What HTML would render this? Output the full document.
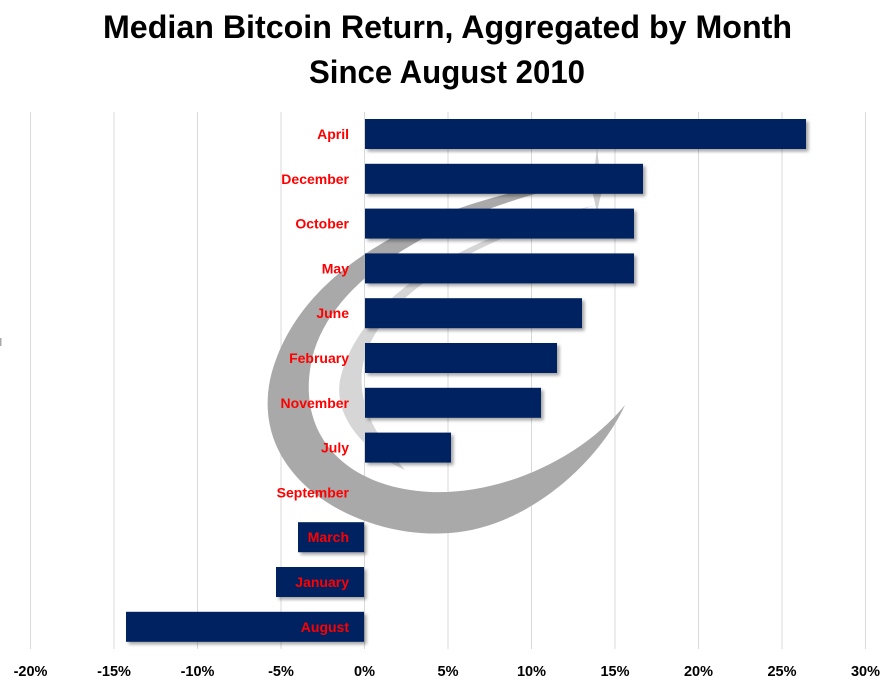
<!DOCTYPE html>
<html><head><meta charset="utf-8"><style>
html,body{margin:0;padding:0;background:#fff;}
svg{display:block;}
text{font-family:"Liberation Sans",sans-serif;font-weight:bold;}
</style></head><body>
<svg width="889" height="686" viewBox="0 0 889 686" xmlns="http://www.w3.org/2000/svg">
<defs>
<filter id="sh" x="-5%" y="-20%" width="115%" height="160%">
<feDropShadow dx="2.5" dy="2.5" stdDeviation="1.5" flood-color="#000" flood-opacity="0.35"/>
</filter>
</defs>
<rect width="889" height="686" fill="#fff"/>
<!-- title -->
<text x="103" y="38" font-size="32" fill="#000" textLength="689" lengthAdjust="spacingAndGlyphs">Median Bitcoin Return, Aggregated by Month</text>
<text x="309" y="83" font-size="32" fill="#000" textLength="276" lengthAdjust="spacingAndGlyphs">Since August 2010</text>
<!-- gridlines -->
<g stroke="#d9d9d9" stroke-width="1">
<line x1="30.5" y1="112" x2="30.5" y2="649"/>
<line x1="114" y1="112" x2="114" y2="649"/>
<line x1="197.5" y1="112" x2="197.5" y2="649"/>
<line x1="281" y1="112" x2="281" y2="649"/>
<line x1="364.5" y1="112" x2="364.5" y2="649"/>
<line x1="448" y1="112" x2="448" y2="649"/>
<line x1="531.5" y1="112" x2="531.5" y2="649"/>
<line x1="615" y1="112" x2="615" y2="649"/>
<line x1="698.5" y1="112" x2="698.5" y2="649"/>
<line x1="782" y1="112" x2="782" y2="649"/>
<line x1="865.5" y1="112" x2="865.5" y2="649"/>
</g>
<rect x="0" y="338" width="1.5" height="8" fill="#aaa"/>
<!-- watermark -->
<g>
<path d="M600 178 C470 190,300 250,270 380 C250 480,360 540,450 533 C530 527,600 460,625 405 C580 460,500 495,430 492 C350 488,300 440,310 370 C320 290,420 215,600 178 Z" fill="#a9a9a9"/>
<path d="M597 205 C480 230,360 290,340 380 C333 420,370 455,405 470 C380 440,358 410,362 370 C372 300,470 240,597 205 Z" fill="#d6d6d6"/>
<path d="M597 148 L602 190 L597 212 L592 190 Z" fill="#cfcfcf"/>
</g>
<!-- bars -->
<g fill="#002060" filter="url(#sh)">
<rect x="365" y="119" width="441" height="30"/>
<rect x="365" y="163.8" width="278" height="30"/>
<rect x="365" y="208.6" width="269" height="30"/>
<rect x="365" y="253.4" width="269" height="30"/>
<rect x="365" y="298.2" width="217" height="30"/>
<rect x="365" y="343" width="192" height="30"/>
<rect x="365" y="387.8" width="176" height="30"/>
<rect x="365" y="432.6" width="86" height="30"/>
<rect x="298" y="522.2" width="66" height="30"/>
<rect x="276" y="567" width="88" height="30"/>
<rect x="126" y="611.8" width="238" height="30"/>
</g>
<!-- category labels -->
<g fill="#ff0000" font-size="14" text-anchor="end">
<text x="349" y="139">April</text>
<text x="349" y="183.8">December</text>
<text x="349" y="228.6">October</text>
<text x="349" y="273.4">May</text>
<text x="349" y="318.2">June</text>
<text x="349" y="363">February</text>
<text x="349" y="407.8">November</text>
<text x="349" y="452.6">July</text>
<text x="349" y="497.4">September</text>
<text x="349" y="542.2">March</text>
<text x="349" y="587">January</text>
<text x="349" y="631.8">August</text>
</g>
<!-- axis labels -->
<g fill="#000" font-size="14.5" text-anchor="middle">
<text x="30.5" y="676">-20%</text>
<text x="114" y="676">-15%</text>
<text x="197.5" y="676">-10%</text>
<text x="281" y="676">-5%</text>
<text x="364.5" y="676">0%</text>
<text x="448" y="676">5%</text>
<text x="531.5" y="676">10%</text>
<text x="615" y="676">15%</text>
<text x="698.5" y="676">20%</text>
<text x="782" y="676">25%</text>
<text x="865.5" y="676">30%</text>
</g>
</svg>
</body></html>
